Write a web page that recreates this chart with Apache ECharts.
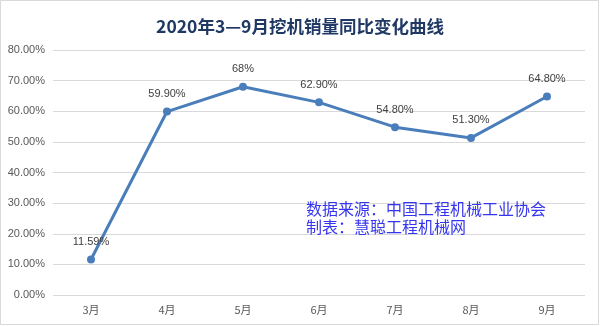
<!DOCTYPE html>
<html><head><meta charset="utf-8">
<script src="https://cdn.jsdelivr.net/npm/echarts@6/dist/echarts.min.js"></script>
<style>html,body{margin:0;padding:0;background:#fff}#c{width:600px;height:326px}</style>
</head><body><div id="c"></div>
<script>
var categories = ['3月','4月','5月','6月','7月','8月','9月'];
var values = [11.59, 59.90, 68, 62.90, 54.80, 51.30, 64.80];
var labelTexts = ['11.59%','59.90%','68%','62.90%','54.80%','51.30%','64.80%'];
var titleText = '2020年3—9月挖机销量同比变化曲线';
var noteLines = ['数据来源：中国工程机械工业协会','制表：慧聪工程机械网'];

var chart = echarts.init(document.getElementById('c'));
chart.setOption({
  animation: false,
  backgroundColor: '#fff',
  title: {
    text: titleText, left: 'center', top: 13,
    textStyle: {fontFamily: 'Noto Sans CJK SC', fontSize: 17.5, fontWeight: 'bold', color: '#1F3864'}
  },
  graphic: [
    {type: 'rect', shape: {x: 0.5, y: 0.5, width: 598, height: 324}, style: {fill: 'none', stroke: '#d9d9d9', lineWidth: 1}, silent: true},
    {type: 'text', left: 306, top: 200, style: {text: noteLines.join('\n'), fill: '#3535f0', font: '16px "Noto Sans CJK SC"', lineHeight: 18}, z: 10}
  ],
  grid: {left: 53, right: 15, top: 50, bottom: 31},
  xAxis: {
    type: 'category', data: categories, boundaryGap: true,
    axisLine: {show: false}, axisTick: {show: false},
    axisLabel: {color: '#595959', fontSize: 11, fontFamily: 'Noto Sans CJK SC', margin: 9}
  },
  yAxis: {
    type: 'value', min: 0, max: 80, interval: 10,
    axisLine: {show: false}, axisTick: {show: false},
    splitLine: {lineStyle: {color: '#d9d9d9', width: 1}},
    axisLabel: {color: '#595959', fontSize: 11, fontFamily: 'Liberation Sans', margin: 8,
      formatter: function (v) { return v.toFixed(2) + '%'; }}
  },
  series: [{
    type: 'line', data: values,
    symbol: 'circle', symbolSize: 8,
    lineStyle: {color: '#4a7ebb', width: 3},
    itemStyle: {color: '#4a7ebb'},
    label: {show: true, position: 'top', distance: 8, color: '#404040', fontSize: 11, fontFamily: 'Liberation Sans',
      formatter: function (p) { return labelTexts[p.dataIndex]; }}
  }]
});
</script></body></html>
